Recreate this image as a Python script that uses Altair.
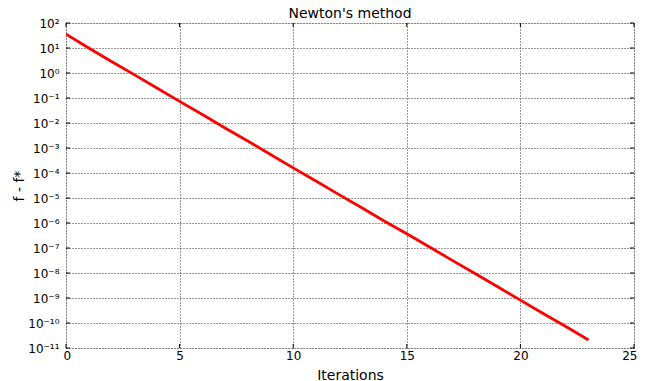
import altair as alt
import pandas as pd

iterations = list(range(24))
gap = [36, 10, 2.9, 0.86, 0.25, 0.073, 0.022, 6.3e-3, 1.9e-3, 5.5e-4, 1.6e-4,
       4.8e-5, 1.4e-5, 4.2e-6, 1.2e-6, 3.7e-7, 1.1e-7, 3.2e-8, 9.5e-9, 2.8e-9,
       8.2e-10, 2.4e-10, 7.2e-11, 2.1e-11]
x_ticks = [0, 5, 10, 15, 20, 25]
y_ticks = [1e-11, 1e-10, 1e-9, 1e-8, 1e-7, 1e-6, 1e-5, 1e-4, 1e-3, 1e-2, 1e-1, 1, 10, 100]

df = pd.DataFrame({"it": iterations, "gap": gap})
xt = pd.DataFrame({"v": x_ticks})
yt = pd.DataFrame({"v": y_ticks})

W, H = 568, 325
FONT = "DejaVu Sans"

sup = "['⁰','¹','²','³','⁴','⁵','⁶','⁷','⁸','⁹']"
e = "abs(round(log(datum.value)/LN10))"
label_expr = (
    "'10' + (datum.value < 1 ? '⁻' : '') + "
    f"({e} >= 10 ? {sup}[floor({e}/10)] : '') + {sup}[{e} % 10]"
)

xscale = alt.Scale(domain=[0, 25], nice=False)
yscale = alt.Scale(type="log", domain=[1e-11, 100], nice=False)

grid_kw = dict(grid=True, gridColor="#333", gridDash=[1, 2], gridWidth=1,
               domain=False, ticks=False, labelFontSize=12,
               titleFontSize=14, titleFontWeight="normal", labelFont=FONT,
               titleFont=FONT, labelColor="#000", titleColor="#000")

line = alt.Chart(df).mark_line(color="#ff0000", strokeWidth=2.8, clip=True).encode(
    x=alt.X("it:Q", scale=xscale,
            axis=alt.Axis(values=x_ticks, title="Iterations", labelPadding=2,
                          labelFlush=True, labelFlushOffset=3,
                          titlePadding=7, **grid_kw)),
    y=alt.Y("gap:Q", scale=yscale,
            axis=alt.Axis(values=y_ticks, title="f - f*", labelPadding=7,
                          labelFlush=False,
                          labelExpr=label_expr, titlePadding=1, **grid_kw)),
)

xb = alt.Chart(xt).mark_rule(color="#000", strokeWidth=1).encode(
    x=alt.X("v:Q", scale=xscale), y=alt.value(H), y2=alt.value(H - 4))
xtop = alt.Chart(xt).mark_rule(color="#000", strokeWidth=1).encode(
    x=alt.X("v:Q", scale=xscale), y=alt.value(0), y2=alt.value(4))
yl = alt.Chart(yt).mark_rule(color="#000", strokeWidth=1).encode(
    y=alt.Y("v:Q", scale=yscale), x=alt.value(0), x2=alt.value(4))
yr = alt.Chart(yt).mark_rule(color="#000", strokeWidth=1).encode(
    y=alt.Y("v:Q", scale=yscale), x=alt.value(W), x2=alt.value(W - 4))

chart = alt.layer(line, xb, xtop, yl, yr).properties(
    width=W, height=H,
    title=alt.TitleParams("Newton's method", font=FONT, fontSize=14,
                          fontWeight="normal", color="#000", offset=-4, anchor="middle"),
    autosize=alt.AutoSizeParams(type="none"),
    padding={"left": 58, "top": 15, "right": 3, "bottom": 33},
).configure_view(stroke="#000", strokeWidth=1.2).configure(background="white")

chart.save("out.html", embed_options={"renderer": "svg", "actions": False})
